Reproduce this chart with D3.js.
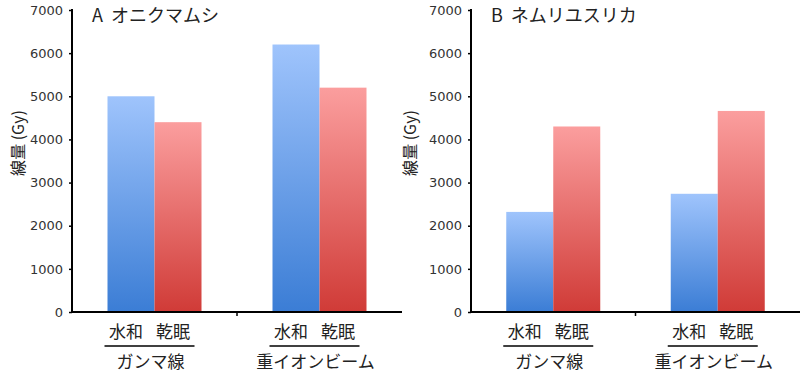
<!DOCTYPE html>
<html>
<head>
<meta charset="utf-8">
<script src="https://cdn.jsdelivr.net/npm/d3@7"></script>
<style>
  body { margin: 0; background: #fff; }
  svg { display: block; }
  text { font-family: "Noto Sans CJK JP", "Noto Sans", sans-serif; fill: #222; }
  .tick text { font-family: "DejaVu Sans", "Liberation Sans", sans-serif; font-size: 13px; fill: #333; }
</style>
</head>
<body>
<div id="chart"></div>
<script>
(function () {

    // data
    const conditions = ['水和', '乾眠'];
    const sources = ['ガンマ線', '重イオンビーム'];
    const titles = ['A オニクマムシ', 'B ネムリユスリカ'];
    const valuesA = [[5000, 4400], [6200, 5200]];
    const valuesB = [[2320, 4300], [2740, 4660]];
    const yTicks = [0, 1000, 2000, 3000, 4000, 5000, 6000, 7000];

    const width = 800;
    const height = 373;

    const svg = d3.select('#chart')
        .append('svg')
        .attr('width', width)
        .attr('height', height);

    const defs = svg.append('defs');
    const gradients = [['grad-blue', '#9fc4fc', '#3b7dd5'], ['grad-red', '#fb9e9e', '#d03b37']];
    gradients.forEach(g => {
        const lg = defs.append('linearGradient')
            .attr('id', g[0])
            .attr('x1', 0).attr('y1', 0).attr('x2', 0).attr('y2', 1);
        lg.append('stop').attr('offset', '0%').attr('stop-color', g[1]);
        lg.append('stop').attr('offset', '100%').attr('stop-color', g[2]);
    });

    drawPanel(72, 402, titles[0], valuesA, 18);
    drawPanel(471, 800, titles[1], valuesB, 410);

    function drawPanel(x0, x1, title, values, labelX) {

        const y = d3.scaleLinear().domain([0, 7000]).range([312, 10]);
        const x = d3.scaleBand().domain(sources).range([x0, x1]);
        const sub = d3.scaleBand().domain(conditions).range([-47, 47]);

        const g = svg.append('g');

        // bars
        const groups = g.selectAll('g.group')
            .data(sources)
            .join('g')
            .attr('class', 'group')
            .attr('transform', d => 'translate(' + (x(d) + x.bandwidth() / 2) + ',0)');

        groups.selectAll('rect')
            .data((d, i) => values[i].map((v, j) => ({ cond: conditions[j], value: v, j: j })))
            .join('rect')
            .attr('x', d => sub(d.cond))
            .attr('width', sub.bandwidth())
            .attr('y', d => y(d.value))
            .attr('height', d => y(0) - y(d.value))
            .attr('fill', d => d.j === 0 ? 'url(#grad-blue)' : 'url(#grad-red)');

        // y axis
        const yAxis = g.append('g')
            .attr('transform', 'translate(' + x0 + ',0)')
            .call(d3.axisLeft(y).tickValues(yTicks).tickSize(3).tickPadding(6).tickFormat(d3.format('d')));
        yAxis.select('.domain').attr('stroke', '#000').attr('stroke-width', 2).attr('d', 'M0,9V313');
        yAxis.selectAll('.tick line').attr('stroke', '#000').attr('stroke-width', 1.5);

        // x axis
        g.append('line')
            .attr('x1', x0 - 1).attr('x2', x1)
            .attr('y1', y(0)).attr('y2', y(0))
            .attr('stroke', '#000').attr('stroke-width', 2);
        g.append('line')
            .attr('x1', x(sources[1])).attr('x2', x(sources[1]))
            .attr('y1', y(0)).attr('y2', y(0) + 4)
            .attr('stroke', '#000').attr('stroke-width', 1.5);

        // condition labels under the bars
        groups.selectAll('text.cond')
            .data(conditions)
            .join('text')
            .attr('class', 'cond')
            .attr('x', d => sub(d) + sub.bandwidth() / 2 - 5)
            .attr('y', 338)
            .attr('text-anchor', 'middle')
            .style('font-size', '17px')
            .text(d => d);

        groups.append('line')
            .attr('x1', -50).attr('x2', 40)
            .attr('y1', 346).attr('y2', 346)
            .attr('stroke', '#000').attr('stroke-width', 1.5);

        groups.append('text')
            .attr('x', -4)
            .attr('y', 368)
            .attr('text-anchor', 'middle')
            .style('font-size', '17px')
            .text(d => d);

        // title
        const parts = title.split(' ');
        const t = g.append('text')
            .attr('x', x0 + 20)
            .attr('y', 22)
            .style('font-size', '18px');
        t.append('tspan').text(parts[0]);
        t.append('tspan').attr('dx', 8).text(parts[1]);

        // y axis label
        g.append('text')
            .attr('transform', 'translate(' + (labelX + 6) + ',143) rotate(-90)')
            .attr('text-anchor', 'middle')
            .style('font-size', '16px')
            .text('線量 (Gy)');
    }
})();
</script>
</body>
</html>
